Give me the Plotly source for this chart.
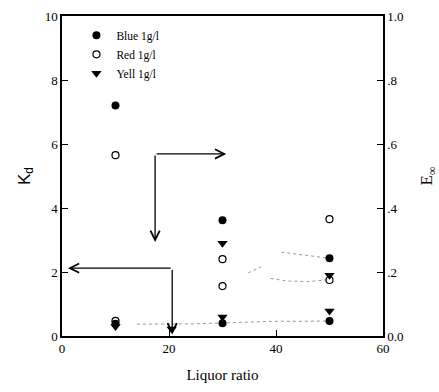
import plotly.graph_objects as go

# Data (liquor ratio vs Kd)
blue_x = [10, 10, 30, 30, 50, 50]
blue_y = [7.2, 0.38, 3.62, 0.40, 2.43, 0.47]
red_x = [10, 10, 30, 30, 50, 50]
red_y = [5.65, 0.47, 2.4, 1.56, 3.65, 1.75]
yell_x = [10, 20.5, 30, 30, 50, 50]
yell_y = [0.30, 0.22, 2.9, 0.59, 1.9, 0.78]

# faint fitted curves
fit1_x = [41, 44, 47, 50]
fit1_y = [2.62, 2.56, 2.48, 2.43]
fit2_x = [34.8, 36, 37.2]
fit2_y = [1.97, 2.06, 2.16]
fit3_x = [39, 42, 46, 50]
fit3_y = [1.80, 1.72, 1.70, 1.76]
fit4_x = [14, 20, 25, 30, 35, 40, 45, 50]
fit4_y = [0.37, 0.37, 0.38, 0.41, 0.44, 0.46, 0.46, 0.47]

# arrows: (tail x, tail y, head x, head y)
arrows = [
    (17.4, 5.69, 30.7, 5.69),
    (17.4, 5.69, 17.4, 2.94),
    (20.6, 2.12, 1.1, 2.12),
    (20.6, 2.12, 20.6, 0.05),
]

x_ticks = [0, 20, 40, 60]
y_ticks = [0, 2, 4, 6, 8, 10]
y2_ticks = [0, 0.2, 0.4, 0.6, 0.8, 1.0]
y2_labels = ["0.0", ".2", ".4", ".6", ".8", "1.0"]

font = "Liberation Serif"
fig = go.Figure()

for fx, fy in [(fit1_x, fit1_y), (fit2_x, fit2_y), (fit3_x, fit3_y), (fit4_x, fit4_y)]:
    fig.add_trace(go.Scatter(x=fx, y=fy, mode="lines", showlegend=False,
                             line=dict(color="#999", width=1, dash="dot"), hoverinfo="skip"))

fig.add_trace(go.Scatter(x=blue_x, y=blue_y, mode="markers", name="Blue 1g/l",
                         marker=dict(symbol="circle", size=8, color="black")))
fig.add_trace(go.Scatter(x=red_x, y=red_y, mode="markers", name="Red 1g/l",
                         marker=dict(symbol="circle-open", size=7, color="black", line=dict(width=1.2))))
fig.add_trace(go.Scatter(x=yell_x, y=yell_y, mode="markers", name="Yell 1g/l",
                         marker=dict(symbol="triangle-down", size=9, color="black")))
# invisible trace to show right axis
fig.add_trace(go.Scatter(x=[0], y=[0], yaxis="y2", mode="markers", showlegend=False,
                         marker=dict(opacity=0), hoverinfo="skip"))

for (tx, ty, hx, hy) in arrows:
    fig.add_annotation(x=hx, y=hy, ax=tx, ay=ty, xref="x", yref="y", axref="x", ayref="y",
                       showarrow=True, arrowhead=5, arrowsize=1.4, arrowwidth=1.3,
                       arrowcolor="black", text="")

axis_common = dict(showline=True, linecolor="black", linewidth=1.5, ticks="inside",
                   ticklen=6, tickcolor="black", showgrid=False, zeroline=False,
                   tickfont=dict(family=font, size=13, color="black"))

fig.update_layout(
    width=439, height=392,
    margin=dict(l=62, r=56, t=16, b=56),
    plot_bgcolor="white", paper_bgcolor="white",
    font=dict(family=font, color="black"),
    xaxis=dict(range=[0, 60], tickvals=x_ticks, mirror=True, automargin=False,
               title=dict(text="Liquor ratio", font=dict(family=font, size=15), standoff=14),
               **axis_common),
    yaxis=dict(range=[0, 10], tickvals=y_ticks, automargin=False,
               title=dict(text="K<sub>d</sub>", font=dict(family="Liberation Sans", size=17), standoff=10),
               **axis_common),
    yaxis2=dict(range=[0, 1], tickvals=y2_ticks, ticktext=y2_labels, overlaying="y", side="right",
                automargin=False,
                title=dict(text="E<sub>∞</sub>", font=dict(family=font, size=17), standoff=18),
                **axis_common),
    legend=dict(x=0.045, y=0.985, xanchor="left", yanchor="top", bgcolor="rgba(0,0,0,0)",
                font=dict(family=font, size=11.5), tracegroupgap=0),
    showlegend=True,
)

fig.write_html("out.html")
